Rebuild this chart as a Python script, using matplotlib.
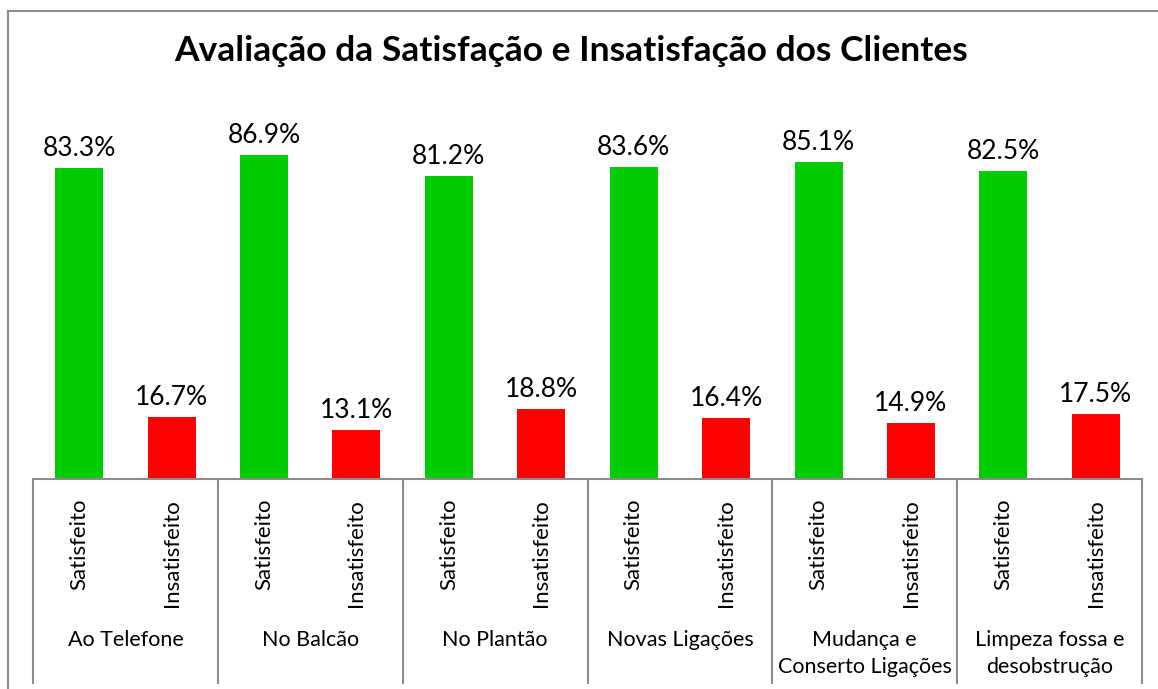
import matplotlib
matplotlib.use('Agg')
import matplotlib.pyplot as plt
from matplotlib.lines import Line2D

W, H = 1158, 689

groups = ['Ao Telefone', 'No Balcão', 'No Plantão', 'Novas Ligações',
          'Mudança e\nConserto Ligações', 'Limpeza fossa e\ndesobstrução']
sub_labels = ['Satisfeito', 'Insatisfeito']
satisfeito = [83.3, 86.9, 81.2, 83.6, 85.1, 82.5]
insatisfeito = [16.7, 13.1, 18.8, 16.4, 14.9, 17.5]
title = 'Avaliação da Satisfação e Insatisfação dos Clientes'

plt.rcParams['font.family'] = ['Lato', 'DejaVu Sans']

fig = plt.figure(figsize=(W / 100, H / 100), dpi=100)

# plot area in pixel coordinates
x0, x1 = 33, 1142
y_base, y_top = 479, 106
ax = fig.add_axes([x0 / W, (H - y_base) / H, (x1 - x0) / W, (y_base - y_top) / H])

values, colors, ticks = [], [], []
for s, i in zip(satisfeito, insatisfeito):
    values += [s, i]
    colors += ['#00CC00', '#FF0000']
    ticks += sub_labels

xs = list(range(len(values)))
bars = ax.bar(xs, values, width=0.52, color=colors, zorder=2)
for b, v in zip(bars, values):
    ax.annotate('%.1f%%' % v, (b.get_x() + b.get_width() / 2, v),
                xytext=(0, 5), textcoords='offset points',
                ha='center', va='bottom', fontsize=19)

ax.set_xlim(-0.5, len(values) - 0.5)
ax.set_ylim(0, 100)
ax.set_yticks([])
ax.set_xticks([])
for side in ['top', 'right', 'left']:
    ax.spines[side].set_visible(False)
ax.spines['bottom'].set_color('#8c8c8c')
ax.spines['bottom'].set_linewidth(1.5)

# sub category labels (rotated)
px = 1.0 / (y_base - y_top)
for x, t in zip(xs, ticks):
    ax.text(x, -20 * px, t, rotation=90, ha='center', va='top',
            fontsize=16, transform=ax.get_xaxis_transform())

# group labels and separators
for g, name in enumerate(groups):
    ax.text(2 * g + 0.5, -151 * px, name, ha='center', va='top', fontsize=15.5,
            linespacing=1.45, transform=ax.get_xaxis_transform())
for g in range(len(groups) + 1):
    ax.add_line(Line2D([2 * g - 0.5] * 2, [0, -204 * px], color='#8c8c8c',
                       lw=1.5, transform=ax.get_xaxis_transform(), clip_on=False))

fig.text(571 / W, 1 - 51 / H, title, ha='center', va='center',
         fontsize=25.5, fontweight='bold')

# chart border (cropped at right and bottom)
fig.add_artist(Line2D([8 / W, 1], [1 - 11 / H] * 2, color='#8c8c8c', lw=1.5,
                      transform=fig.transFigure))
fig.add_artist(Line2D([8 / W] * 2, [0, 1 - 11 / H], color='#8c8c8c', lw=1.5,
                      transform=fig.transFigure))

fig.savefig('out.png', dpi=100)
